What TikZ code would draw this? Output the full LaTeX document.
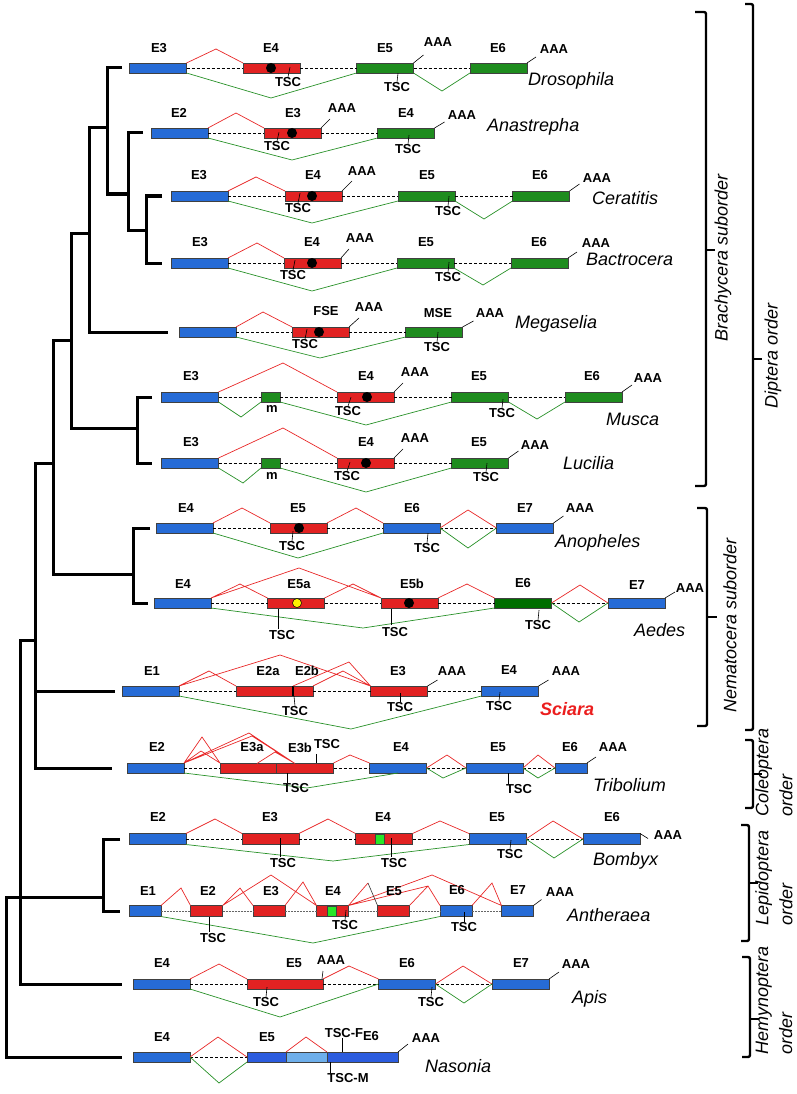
\documentclass[tikz,border=0pt]{standalone}
\usepackage{fontspec}
\setmainfont{Liberation Sans}
\definecolor{eblue}{RGB}{38,107,214}
\definecolor{ered}{RGB}{226,34,34}
\definecolor{egreen}{RGB}{30,140,30}
\definecolor{edkgreen}{RGB}{0,110,0}
\definecolor{nblue}{RGB}{44,92,222}
\definecolor{lblue}{RGB}{110,175,235}
\definecolor{sqgreen}{RGB}{40,230,40}
\definecolor{sred}{RGB}{232,40,40}
\definecolor{sgreen}{RGB}{40,145,40}
\definecolor{scred}{RGB}{235,30,30}
\begin{document}
\begin{tikzpicture}[x=1pt,y=-1pt,
  exon/.style={draw=black!75,line width=0.6pt,minimum height=10pt,inner sep=0pt,outer sep=0pt},
  lab/.style={font=\fontsize{13}{13}\selectfont\bfseries,inner sep=0pt},
  sp/.style={font=\fontsize{18}{18}\selectfont\itshape,anchor=west,inner sep=0pt},
  grp/.style={font=\fontsize{18}{24}\selectfont\itshape,rotate=90,align=left,inner sep=0pt},
  intron/.style={line width=0.7pt,dash pattern=on 3pt off 2pt},
  redspl/.style={draw=sred,line width=0.7pt},
  grnspl/.style={draw=sgreen,line width=0.7pt},
  tsctick/.style={line width=0.6pt},
  treeline/.style={line width=3pt},
  brk/.style={line width=2.4pt,rounded corners=2pt},
  blackdot/.style={circle,fill=black,minimum size=10pt,inner sep=0pt},
  yellowdot/.style={circle,draw=black,fill=yellow,minimum size=9pt,inner sep=0pt,line width=0.5pt},
  sqbox/.style={draw=black!75,fill=sqgreen,line width=0.6pt,minimum width=9pt,minimum height=10pt,inner sep=0pt}]
  \useasboundingbox (0,0) rectangle (797,1094);

  \draw[treeline] (162,196) -- (146,196) -- (146,263) -- (162,263);
  \draw[treeline] (143,133) -- (128,133) -- (128,230) -- (146,230);
  \draw[treeline] (122,68) -- (107,68) -- (107,194) -- (128,194);
  \draw[treeline] (107,128) -- (89,128) -- (89,332) -- (168,332);
  \draw[treeline] (152,397) -- (137,397) -- (137,463) -- (152,463);
  \draw[treeline] (89,233) -- (71,233) -- (71,428) -- (137,428);
  \draw[treeline] (150,528) -- (133,528) -- (133,603) -- (148,603);
  \draw[treeline] (71,340) -- (53,340) -- (53,574) -- (133,574);
  \draw[treeline] (53,463) -- (35,463) -- (35,768) -- (112,768);
  \draw[treeline] (35,691) -- (115,691);
  \draw[treeline] (120,839) -- (103,839) -- (103,911) -- (120,911);
  \draw[treeline] (35,640) -- (20,640) -- (20,984) -- (122,984);
  \draw[treeline] (103,897) -- (6,897) -- (6,1057) -- (122,1057);

  \node[exon,fill=eblue,minimum width=57] (dr3) at (158,68) {};
  \node[exon,fill=ered,minimum width=57] (dr4) at (271.5,68) {};
  \node[exon,fill=egreen,minimum width=57] (dr5) at (385,68) {};
  \node[exon,fill=egreen,minimum width=57] (dr6) at (498.5,68) {};
  \node[blackdot] (drd) at (271,68) {};
  \draw[intron] (dr3) -- (dr4) (dr4) -- (dr5) (dr5) -- (dr6);
  \draw[redspl] (dr3.north east) -- (216,49) -- (dr4.north west);
  \draw[grnspl] (dr3.south east) -- (271,98) -- (dr5.south west) (dr5.south east) -- (442,91) -- (dr6.south west);
  \node[lab] (dr3l) at (159,48) {E3};
  \node[lab] (dr4l) at (271,48) {E4};
  \node[lab] (dr5l) at (385,48) {E5};
  \node[lab] (dr6l) at (498,48) {E6};
  \node[lab] (dra5) at (438,42) {AAA};
  \node[lab] (dra6) at (554,49) {AAA};
  \draw[tsctick] (dr5.north east) -- ++(10,-8);
  \draw[tsctick] (dr6.north east) -- ++(9,-6);
  \node[lab] (drt4) at (288,82) {TSC};
  \node[lab] (drt5) at (397,87) {TSC};
  \draw[tsctick] (drt4.north) -- ++(2,-10);
  \draw[tsctick] (drt5.north) -- ++(1,-9);
  \node[sp] (drs) at (528,81) {Drosophila};

  \node[exon,fill=eblue,minimum width=57] (an2) at (179.5,133) {};
  \node[exon,fill=ered,minimum width=57] (an3) at (292.5,133) {};
  \node[exon,fill=egreen,minimum width=57] (an4) at (406,133) {};
  \node[blackdot] (and) at (292,133) {};
  \draw[intron] (an2) -- (an3) (an3) -- (an4);
  \draw[redspl] (an2.north east) -- (236,113) -- (an3.north west);
  \draw[grnspl] (an2.south east) -- (292,160) -- (an4.south west);
  \node[lab] (an2l) at (179,113) {E2};
  \node[lab] (an3l) at (293,113) {E3};
  \node[lab] (an4l) at (406,113) {E4};
  \node[lab] (ana3) at (342,108) {AAA};
  \node[lab] (ana4) at (462,115) {AAA};
  \draw[tsctick] (an3.north east) -- ++(9,-9);
  \draw[tsctick] (an4.north east) -- ++(10,-6);
  \node[lab] (ant3) at (277,146) {TSC};
  \node[lab] (ant4) at (408,149) {TSC};
  \draw[tsctick] (ant3.north) -- ++(2,-9);
  \draw[tsctick] (ant4.north) -- ++(1,-9);
  \node[sp] (ans) at (487,127) {Anastrepha};

  \node[exon,fill=eblue,minimum width=57] (ce3) at (199.5,196) {};
  \node[exon,fill=ered,minimum width=57] (ce4) at (313.5,196) {};
  \node[exon,fill=egreen,minimum width=57] (ce5) at (426.5,196) {};
  \node[exon,fill=egreen,minimum width=57] (ce6) at (541,196) {};
  \node[blackdot] (ced) at (312,196) {};
  \draw[intron] (ce3) -- (ce4) (ce4) -- (ce5) (ce5) -- (ce6);
  \draw[redspl] (ce3.north east) -- (256,177) -- (ce4.north west);
  \draw[grnspl] (ce3.south east) -- (312,223) -- (ce5.south west) (ce5.south east) -- (484,219) -- (ce6.south west);
  \node[lab] (ce3l) at (199,175) {E3};
  \node[lab] (ce4l) at (313,175) {E4};
  \node[lab] (ce5l) at (427,175) {E5};
  \node[lab] (ce6l) at (540,175) {E6};
  \node[lab] (cea4) at (362,171) {AAA};
  \node[lab] (cea6) at (597,178) {AAA};
  \draw[tsctick] (ce4.north east) -- ++(10,-10);
  \draw[tsctick] (ce6.north east) -- ++(10,-7);
  \node[lab] (cet4) at (298,208) {TSC};
  \node[lab] (cet5) at (448,211) {TSC};
  \draw[tsctick] (cet4.north) -- ++(2,-10);
  \draw[tsctick] (cet5.north) -- ++(1,-10);
  \node[sp] (ces) at (592,198) {Ceratitis};

  \node[exon,fill=eblue,minimum width=57] (ba3) at (199.5,263) {};
  \node[exon,fill=ered,minimum width=57] (ba4) at (312.5,263) {};
  \node[exon,fill=egreen,minimum width=57] (ba5) at (425.5,263) {};
  \node[exon,fill=egreen,minimum width=57] (ba6) at (539.5,263) {};
  \node[blackdot] (bad) at (312,263) {};
  \draw[intron] (ba3) -- (ba4) (ba4) -- (ba5) (ba5) -- (ba6);
  \draw[redspl] (ba3.north east) -- (257,243) -- (ba4.north west);
  \draw[grnspl] (ba3.south east) -- (312,291) -- (ba5.south west) (ba5.south east) -- (483,285) -- (ba6.south west);
  \node[lab] (ba3l) at (200,242) {E3};
  \node[lab] (ba4l) at (312,242) {E4};
  \node[lab] (ba5l) at (426,242) {E5};
  \node[lab] (ba6l) at (539,242) {E6};
  \node[lab] (baa4) at (360,238) {AAA};
  \node[lab] (baa6) at (596,243) {AAA};
  \draw[tsctick] (ba4.north east) -- ++(8,-9);
  \draw[tsctick] (ba6.north east) -- ++(9,-6);
  \node[lab] (bat4) at (293,275) {TSC};
  \node[lab] (bat5) at (448,277) {TSC};
  \draw[tsctick] (bat4.north) -- ++(2,-10);
  \draw[tsctick] (bat5.north) -- ++(1,-10);
  \node[sp] (bas) at (586,259) {Bactrocera};

  \node[exon,fill=eblue,minimum width=57] (me1) at (207.5,332) {};
  \node[exon,fill=ered,minimum width=57] (me2) at (320.5,332) {};
  \node[exon,fill=egreen,minimum width=57] (me3) at (434,332) {};
  \node[blackdot] (med) at (319,332) {};
  \draw[intron] (me1) -- (me2) (me2) -- (me3);
  \draw[redspl] (me1.north east) -- (263,312) -- (me2.north west);
  \draw[grnspl] (me1.south east) -- (320,358) -- (me3.south west);
  \node[lab] (me2l) at (326,311) {FSE};
  \node[lab] (me3l) at (438,313) {MSE};
  \node[lab] (mea2) at (369,307) {AAA};
  \node[lab] (mea3) at (490,313) {AAA};
  \draw[tsctick] (me2.north east) -- ++(10,-9);
  \draw[tsctick] (me3.north east) -- ++(11,-6);
  \node[lab] (met2) at (305,344) {TSC};
  \node[lab] (met3) at (437,347) {TSC};
  \draw[tsctick] (met2.north) -- ++(2,-10);
  \draw[tsctick] (met3.north) -- ++(1,-10);
  \node[sp] (mes) at (515,324) {Megaselia};

  \node[exon,fill=eblue,minimum width=57] (mu3) at (190,397) {};
  \node[exon,fill=egreen,minimum width=19] (mum) at (270.5,397) {};
  \node[exon,fill=ered,minimum width=57] (mu4) at (365.5,397) {};
  \node[exon,fill=egreen,minimum width=57] (mu5) at (480,397) {};
  \node[exon,fill=egreen,minimum width=57] (mu6) at (593.5,397) {};
  \node[blackdot] (mud) at (367,397) {};
  \draw[intron] (mu3) -- (mum) (mum) -- (mu4) (mu4) -- (mu5) (mu5) -- (mu6);
  \draw[redspl] (mu3.north east) -- (283,363) -- (mu4.north west);
  \draw[grnspl] (mu3.south east) -- (241,417) -- (mum.south west) (mum.south east) -- (366,425) -- (mu5.south west) (mu5.south east) -- (537,419) -- (mu6.south west);
  \node[lab] (mu3l) at (191,376) {E3};
  \node[lab] (mu4l) at (366,376) {E4};
  \node[lab] (mu5l) at (479,376) {E5};
  \node[lab] (mu6l) at (592,376) {E6};
  \node[lab] (muml) at (272,409) {m};
  \node[lab] (mua4) at (415,372) {AAA};
  \node[lab] (mua6) at (648,378) {AAA};
  \draw[tsctick] (mu4.north east) -- ++(9,-9);
  \draw[tsctick] (mu6.north east) -- ++(10,-7);
  \node[lab] (mut4) at (348,411) {TSC};
  \node[lab] (mut5) at (502,413) {TSC};
  \draw[tsctick] (mut4.north) -- ++(3,-9);
  \draw[tsctick] (mut5.north) -- ++(1,-9);
  \node[sp] (mus) at (606,419) {Musca};

  \node[exon,fill=eblue,minimum width=57] (lu3) at (190,463) {};
  \node[exon,fill=egreen,minimum width=19] (lum) at (270.5,463) {};
  \node[exon,fill=ered,minimum width=57] (lu4) at (365.5,463) {};
  \node[exon,fill=egreen,minimum width=57] (lu5) at (480,463) {};
  \node[blackdot] (lud) at (366,463) {};
  \draw[intron] (lu3) -- (lum) (lum) -- (lu4) (lu4) -- (lu5);
  \draw[redspl] (lu3.north east) -- (283,428) -- (lu4.north west);
  \draw[grnspl] (lu3.south east) -- (243,483) -- (lum.south west) (lum.south east) -- (366,492) -- (lu5.south west);
  \node[lab] (lu3l) at (191,442) {E3};
  \node[lab] (lu4l) at (366,442) {E4};
  \node[lab] (lu5l) at (479,442) {E5};
  \node[lab] (luml) at (272,476) {m};
  \node[lab] (lua4) at (415,438) {AAA};
  \node[lab] (lua5) at (535,445) {AAA};
  \draw[tsctick] (lu4.north east) -- ++(9,-9);
  \draw[tsctick] (lu5.north east) -- ++(10,-7);
  \node[lab] (lut4) at (347,476) {TSC};
  \node[lab] (lut5) at (486,477) {TSC};
  \draw[tsctick] (lut4.north) -- ++(3,-9);
  \draw[tsctick] (lut5.north) -- ++(1,-9);
  \node[sp] (lus) at (563,463) {Lucilia};

  \node[exon,fill=eblue,minimum width=57] (ao4) at (184.5,528) {};
  \node[exon,fill=ered,minimum width=57] (ao5) at (298.5,528) {};
  \node[exon,fill=eblue,minimum width=57] (ao6) at (411.5,528) {};
  \node[exon,fill=eblue,minimum width=57] (ao7) at (525,528) {};
  \node[blackdot] (aod) at (299,528) {};
  \draw[intron] (ao4) -- (ao5) (ao5) -- (ao6) (ao6) -- (ao7);
  \draw[redspl] (ao4.north east) -- (242,508) -- (ao5.north west) (ao5.north east) -- (356,508) -- (ao6.north west) (ao6.east) -- (468,510) -- (ao7.west);
  \draw[grnspl] (ao4.south east) -- (298,558) -- (ao6.south west) (ao6.east) -- (468,548) -- (ao7.west);
  \node[lab] (ao4l) at (186,508) {E4};
  \node[lab] (ao5l) at (298,508) {E5};
  \node[lab] (ao6l) at (412,508) {E6};
  \node[lab] (ao7l) at (525,508) {E7};
  \node[lab] (aoa7) at (580,508) {AAA};
  \draw[tsctick] (ao7.north east) -- ++(10,-7);
  \node[lab] (aot5) at (292,546) {TSC};
  \node[lab] (aot6) at (427,548) {TSC};
  \draw[tsctick] (aot5.north) -- ++(1,-10);
  \draw[tsctick] (aot6.north) -- ++(1,-10);
  \node[sp] (aos) at (555,543) {Anopheles};

  \node[exon,fill=eblue,minimum width=57] (ae4) at (182.5,603) {};
  \node[exon,fill=ered,minimum width=57] (ae5a) at (296,603) {};
  \node[exon,fill=ered,minimum width=57] (ae5b) at (409.5,603) {};
  \node[exon,fill=edkgreen,minimum width=57] (ae6) at (523,603) {};
  \node[exon,fill=eblue,minimum width=57] (ae7) at (636.5,603) {};
  \node[yellowdot] (aey) at (297,603) {};
  \node[blackdot] (aed) at (409,603) {};
  \draw[intron] (ae4) -- (ae5a) (ae5a) -- (ae5b) (ae5b) -- (ae6) (ae6) -- (ae7);
  \draw[redspl] (ae4.north east) -- (240,584) -- (ae5a.north west) (ae4.north east) -- (299,568) -- (ae5b.north west) (ae5a.north east) -- (353,584) -- (ae5b.north west) (ae5b.north east) -- (467,584) -- (ae6.north west) (ae6.east) -- (580,585) -- (ae7.west);
  \draw[grnspl] (ae4.south east) -- (363,628) -- (ae6.south west) (ae6.east) -- (579,622) -- (ae7.west);
  \node[lab] (ae4l) at (183,584) {E4};
  \node[lab] (ae5al) at (299,584) {E5a};
  \node[lab] (ae5bl) at (412,584) {E5b};
  \node[lab] (ae6l) at (523,583) {E6};
  \node[lab] (ae7l) at (637,585) {E7};
  \node[lab] (aea7) at (690,588) {AAA};
  \draw[tsctick] (ae7.north east) -- ++(10,-6);
  \node[lab] (aet5a) at (282,635) {TSC};
  \node[lab] (aet5b) at (395,632) {TSC};
  \node[lab] (aet6) at (538,625) {TSC};
  \draw[tsctick] (aet5a.north) ++(-4,-1) -- ++(0,-20);
  \draw[tsctick] (aet5b.north) ++(-4,-2) -- ++(0,-16);
  \draw[tsctick] (aet6.north) -- ++(1,-10);
  \node[sp] (aes) at (634,630) {Aedes};

  \node[exon,fill=eblue,minimum width=57] (sc1) at (150.5,691) {};
  \node[exon,fill=ered,minimum width=57] (sc2a) at (264.5,691) {};
  \node[exon,fill=ered,minimum width=20] (sc2b) at (303,691) {};
  \node[exon,fill=ered,minimum width=57] (sc3) at (399,691) {};
  \node[exon,fill=eblue,minimum width=57] (sc4) at (510,691) {};
  \draw[line width=1.3pt] (sc2a.north east) -- (sc2a.south east);
  \draw[intron] (sc1) -- (sc2a) (sc2b) -- (sc3) (sc3) -- (sc4);
  \draw[redspl] (sc1.north east) -- (209,671) -- (sc2a.north west) (sc1.north east) -- (280,655) -- (sc3.north west) (sc2a.north east) -- (349,662) -- (sc3.north west) (sc2b.north east) -- (343,671) -- (sc3.north west);
  \draw[grnspl] (sc1.south east) -- (351,729) -- (sc4.south west);
  \node[lab] (sc1l) at (152,671) {E1};
  \node[lab] (sc2al) at (268,671) {E2a};
  \node[lab] (sc2bl) at (307,671) {E2b};
  \node[lab] (sc3l) at (398,671) {E3};
  \node[lab] (sc4l) at (509,670) {E4};
  \node[lab] (sca3) at (452,671) {AAA};
  \node[lab] (sca4) at (566,671) {AAA};
  \draw[tsctick] (sc3.north east) -- ++(10,-6);
  \draw[tsctick] (sc4.north east) -- ++(10,-6);
  \node[lab] (sct2) at (295,711) {TSC};
  \node[lab] (sct3) at (400,707) {TSC};
  \node[lab] (sct4) at (499,706) {TSC};
  \draw[tsctick] (sct2.north) -- ++(-1,-10);
  \draw[tsctick] (sct3.north) -- ++(0,-9);
  \draw[tsctick] (sct4.north) -- ++(1,-9);
  \node[sp,font=\fontsize{18}{18}\selectfont\bfseries\itshape,text=scred] (scs) at (540,709) {Sciara};

  \node[exon,fill=eblue,minimum width=57] (tr2) at (155.5,768) {};
  \node[exon,fill=ered,minimum width=57] (tr3a) at (248.5,768) {};
  \node[exon,fill=ered,minimum width=57] (tr3b) at (305,768) {};
  \node[exon,fill=eblue,minimum width=57] (tr4) at (398,768) {};
  \node[exon,fill=eblue,minimum width=57] (tr5) at (494.5,768) {};
  \node[exon,fill=eblue,minimum width=32] (tr6) at (571,768) {};
  \coordinate (trj) at (295,763.5);
  \coordinate (trk) at (257,763.5);
  \draw[intron] (tr2) -- (tr3a) (tr3b) -- (tr4) (tr4) -- (tr5) (tr5) -- (tr6);
  \draw[redspl] (tr2.north east) -- (202,737) -- (tr3a.north west) (tr2.north east) -- (201,751) -- (tr3a.north west) (tr2.north east) -- (249,733) -- (trj) (tr2.north east) -- (252,736) -- (trj) (trk) -- (275,752) -- (trj);
  \draw[redspl] (tr3b.north east) -- (350,755) -- (tr4.north west) (tr4.east) -- (447,755) -- (tr5.west) (tr5.east) -- (538,755) -- (tr6.west);
  \draw[grnspl] (tr2.south east) -- (307,788) -- (tr4.south) (tr4.east) -- (443,778) -- (tr5.west) (tr5.east) -- (538,778) -- (tr6.west);
  \node[lab] (tr2l) at (157,747) {E2};
  \node[lab] (tr3al) at (252,747) {E3a};
  \node[lab] (tr3bl) at (300,748) {E3b};
  \node[lab] (trtu) at (327,744) {TSC};
  \node[lab] (tr4l) at (401,747) {E4};
  \node[lab] (tr5l) at (498,747) {E5};
  \node[lab] (tr6l) at (570,747) {E6};
  \node[lab] (tra6) at (613,747) {AAA};
  \draw[tsctick] (tr6.north east) -- ++(9,-6);
  \draw[tsctick] (trtu.south west) ++(2,5) -- ++(0,9);
  \node[lab] (trt3) at (296,788) {TSC};
  \node[lab] (trt5) at (519,789) {TSC};
  \draw[tsctick] (trt3.north) ++(-9,0) -- ++(0,-10);
  \draw[tsctick] (trt5.north) ++(-11,0) -- ++(0,-11);
  \node[sp] (trs) at (593,785) {Tribolium};

  \node[exon,fill=eblue,minimum width=57,minimum height=11] (bo2) at (157.5,839) {};
  \node[exon,fill=ered,minimum width=57,minimum height=11] (bo3) at (270.5,839) {};
  \node[exon,fill=ered,minimum width=57,minimum height=11] (bo4) at (384,839) {};
  \node[exon,fill=eblue,minimum width=57,minimum height=11] (bo5) at (497.5,839) {};
  \node[exon,fill=eblue,minimum width=57,minimum height=11] (bo6) at (611.5,839) {};
  \node[sqbox] (bosq) at (379.5,839) {};
  \draw[intron] (bo2) -- (bo3) (bo3) -- (bo4) (bo4) -- (bo5) (bo5) -- (bo6);
  \draw[redspl] (bo2.north east) -- (215,819) -- (bo3.north west) (bo3.north east) -- (328,819) -- (bo4.north west) (bo4.north east) -- (440,821) -- (bo5.north west) (bo5.east) -- (553,821) -- (bo6.west);
  \draw[grnspl] (bo2.south east) -- (333,861) -- (bo5.south west) (bo5.east) -- (554,858) -- (bo6.west);
  \node[lab] (bo2l) at (158,817) {E2};
  \node[lab] (bo3l) at (270,817) {E3};
  \node[lab] (bo4l) at (383,817) {E4};
  \node[lab] (bo5l) at (497,817) {E5};
  \node[lab] (bo6l) at (612,817) {E6};
  \node[lab] (boa6) at (668,835) {AAA};
  \draw[tsctick] (bo6.north east) -- ++(8,5);
  \node[lab] (bot3) at (283,863) {TSC};
  \node[lab] (bot4) at (394,863) {TSC};
  \node[lab] (bot5) at (510,854) {TSC};
  \draw[tsctick] (bot3.north) ++(-3,-1) -- ++(0,-19);
  \draw[tsctick] (bot4.north) ++(-3,-1) -- ++(0,-19);
  \draw[tsctick] (bot5.north) -- ++(1,-9);
  \node[sp] (bos) at (593,861) {Bombyx};

  \node[exon,fill=eblue,minimum width=32,minimum height=11] (at1) at (145,911) {};
  \node[exon,fill=ered,minimum width=32,minimum height=11] (at2) at (206.5,911) {};
  \node[exon,fill=ered,minimum width=32,minimum height=11] (at3) at (269,911) {};
  \node[exon,fill=ered,minimum width=32,minimum height=11] (at4) at (332.5,911) {};
  \node[exon,fill=ered,minimum width=32,minimum height=11] (at5) at (393.5,911) {};
  \node[exon,fill=eblue,minimum width=32,minimum height=11] (at6) at (456,911) {};
  \node[exon,fill=eblue,minimum width=32,minimum height=11] (at7) at (517.5,911) {};
  \node[sqbox] (atsq) at (332,911) {};
  \coordinate (atp) at (368,883);
  \draw[intron,black!60,dash pattern=on 2pt off 1pt] (at1) -- (at2) (at2) -- (at3) (at3) -- (at4) (at4) -- (at5) (at5) -- (at6) (at6) -- (at7);
  \draw[redspl] (at1.north east) -- (181,888) -- (at2.north west) (at2.north east) -- (240,888) -- (at3.north west) (at2.north east) -- (271,875) -- (at4.north west) (at3.north east) -- (303,882) -- (at4.north west);
  \draw[redspl] (at4.north east) -- (atp) (at4.north east) -- (428,886) -- (at6.north west) (at5.north east) -- (428,886) (at4.north east) -- (432,875) -- (at7.north west) (at6.north east) -- (492,883) -- (at7.north west);
  \draw[tsctick,black!80] (atp) -- (at5.north west);
  \draw[grnspl] (at1.south east) -- (313,943) -- (at6.south west);
  \node[lab] (at1l) at (148,891) {E1};
  \node[lab] (at2l) at (208,891) {E2};
  \node[lab] (at3l) at (271,891) {E3};
  \node[lab] (at4l) at (333,891) {E4};
  \node[lab] (at5l) at (394,891) {E5};
  \node[lab] (at6l) at (457,890) {E6};
  \node[lab] (at7l) at (518,890) {E7};
  \node[lab] (ata7) at (560,892) {AAA};
  \draw[tsctick] (at7.north east) -- ++(8,-6);
  \node[lab] (att2) at (213,938) {TSC};
  \node[lab] (att4) at (345,925) {TSC};
  \node[lab] (att6) at (464,927) {TSC};
  \draw[tsctick] (att2.north) ++(-4,-1) -- ++(0,-15);
  \draw[tsctick] (att4.north) -- ++(1,-10);
  \draw[tsctick] (att6.north) -- ++(0,-10);
  \node[sp] (ats) at (567,915) {Antheraea};

  \node[exon,fill=eblue,minimum width=57] (ap4) at (161.5,984) {};
  \node[exon,fill=ered,minimum width=76] (ap5) at (285,984) {};
  \node[exon,fill=eblue,minimum width=57] (ap6) at (407,984) {};
  \node[exon,fill=eblue,minimum width=57] (ap7) at (520.5,984) {};
  \draw[intron] (ap4) -- (ap5) (ap5) -- (ap6) (ap6) -- (ap7);
  \draw[redspl] (ap4.north east) -- (219,964) -- (ap5.north west) (ap5.north east) -- (349,966) -- (ap6.north west) (ap6.east) -- (463,966) -- (ap7.west);
  \draw[grnspl] (ap4.south east) -- (280,1017) -- (ap6.west) (ap6.east) -- (464,1003) -- (ap7.west);
  \node[lab] (ap4l) at (162,963) {E4};
  \node[lab] (ap5l) at (294,963) {E5};
  \node[lab] (apa5) at (331,960) {AAA};
  \node[lab] (ap6l) at (407,963) {E6};
  \node[lab] (ap7l) at (521,963) {E7};
  \node[lab] (apa7) at (576,964) {AAA};
  \draw[tsctick] (ap5.north east) ++(-1,0) -- ++(1,-8);
  \draw[tsctick] (ap7.north east) -- ++(10,-7);
  \node[lab] (apt5) at (266,1002) {TSC};
  \node[lab] (apt6) at (431,1002) {TSC};
  \draw[tsctick] (apt5.north) -- ++(1,-10);
  \draw[tsctick] (apt6.north) -- ++(1,-10);
  \node[sp] (aps) at (572,999) {Apis};

  \node[exon,fill=eblue,minimum width=57] (na4) at (161.5,1057) {};
  \node[exon,fill=nblue,minimum width=39] (na5) at (266.5,1057) {};
  \node[exon,fill=lblue,minimum width=41] (nal) at (306.5,1057) {};
  \node[exon,fill=nblue,minimum width=71] (na6) at (362.5,1057) {};
  \draw[intron] (na4) -- (na5);
  \draw[redspl] (na4.east) -- (218,1037) -- (na5.west) (na5.north east) -- (306,1037) -- (na6.north west);
  \draw[grnspl] (na4.east) -- (219,1083) -- (na5.south west);
  \node[lab] (na4l) at (162,1037) {E4};
  \node[lab] (na5l) at (267,1037) {E5};
  \node[lab] (natf) at (344,1033) {TSC-F};
  \node[lab] (na6l) at (371,1036) {E6};
  \node[lab] (naa6) at (426,1038) {AAA};
  \node[lab] (natm) at (348,1078) {TSC-M};
  \draw[tsctick] (natf.south) ++(-2,0) -- ++(0,14);
  \draw[tsctick] (natm.north west) ++(3,0) -- ++(0,-11);
  \draw[tsctick] (na6.north east) -- ++(10,-8);
  \node[sp] (nas) at (425,1066) {Nasonia};

  \draw[brk] (695,12) -- (706,12) -- (706,486) -- (695,486);
  \draw[brk] (706,250) -- (715,250);
  \draw[brk] (745,4) -- (753,4) -- (753,730) -- (745,730);
  \draw[brk] (753,359) -- (762,359);
  \draw[brk] (697,508) -- (707,508) -- (707,726) -- (697,726);
  \draw[brk] (707,617) -- (717,617);
  \draw[brk] (745,740) -- (753,740) -- (753,808) -- (745,808);
  \draw[brk] (753,774) -- (762,774);
  \draw[brk] (741,825) -- (749,825) -- (749,941) -- (741,941);
  \draw[brk] (749,883) -- (758,883);
  \draw[brk] (742,957) -- (750,957) -- (750,1057) -- (742,1057);
  \draw[brk] (750,1019) -- (759,1019);
  \node[grp] (brl) at (723,258) {Brachycera suborder};
  \node[grp] (dil) at (773,356) {Diptera order};
  \node[grp] (nel) at (730,625) {Nematocera suborder};
  \node[grp,anchor=west] (col) at (774,817) {Coleoptera\\order};
  \node[grp,anchor=west] (lel) at (774,926) {Lepidoptera\\order};
  \node[grp,anchor=west] (hel) at (774,1055) {Hemynoptera\\order};
\end{tikzpicture}
\end{document}
